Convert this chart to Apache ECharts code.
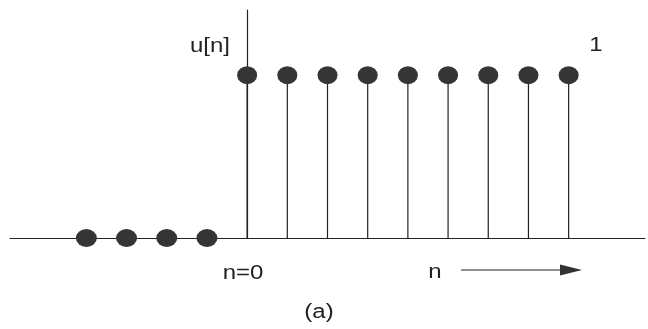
<!DOCTYPE html>
<html>
<head>
<meta charset="utf-8">
<script src="https://cdn.jsdelivr.net/npm/echarts@6/dist/echarts.min.js"></script>
<style>
  html, body { margin: 0; padding: 0; background: #ffffff; }
  #chart { width: 648px; height: 329px; }
</style>
</head>
<body>
<div id="chart"></div>
<script>
// Unit step sequence u[n]: zero for n < 0, one for n >= 0
const negN = [-4, -3, -2, -1];
const negVals = [0, 0, 0, 0];
const posN = [0, 1, 2, 3, 4, 5, 6, 7, 8];
const posVals = [1, 1, 1, 1, 1, 1, 1, 1, 1];

const negPoints = negN.map((n, i) => [n, negVals[i]]);
const posPoints = posN.map((n, i) => [n, posVals[i]]);

const ink = '#222222';
const dotColor = '#353535';
const font = '"Liberation Sans", Arial, sans-serif';

const chart = echarts.init(document.getElementById('chart'));

chart.setOption({
  backgroundColor: '#ffffff',
  animation: false,
  grid: { left: 10, right: 3, top: 10, bottom: 91 },
  xAxis: {
    type: 'value',
    min: -5.9,
    max: 9.9,
    axisLine: { onZero: true, lineStyle: { color: ink, width: 1.2 } },
    axisTick: { show: false },
    axisLabel: { show: false },
    splitLine: { show: false }
  },
  yAxis: {
    type: 'value',
    min: 0,
    max: 1.4,
    axisLine: { show: true, onZero: true, lineStyle: { color: ink, width: 1.2 } },
    axisTick: { show: false },
    axisLabel: { show: false },
    splitLine: { show: false }
  },
  series: [
    {
      // stems from the baseline up to each sample
      type: 'custom',
      data: posPoints,
      z: 2,
      renderItem: function (params, api) {
        const base = api.coord([api.value(0), 0]);
        const top = api.coord([api.value(0), api.value(1)]);
        return {
          type: 'line',
          shape: { x1: base[0], y1: base[1], x2: top[0], y2: top[1] },
          style: { stroke: ink, lineWidth: 1.2 }
        };
      }
    },
    {
      type: 'scatter',
      data: posPoints,
      z: 3,
      symbol: 'circle',
      symbolSize: [20, 18],
      itemStyle: { color: dotColor, opacity: 1 }
    },
    {
      type: 'scatter',
      data: negPoints,
      z: 3,
      symbol: 'circle',
      symbolSize: [21, 18],
      itemStyle: { color: dotColor, opacity: 1 }
    }
  ]
});

// Text annotations and the direction arrow
function label(x, y, text) {
  return {
    type: 'text',
    x: x, y: y,
    scaleX: 1.2,
    style: {
      text: text, fill: ink, font: '20px ' + font,
      textAlign: 'center', textVerticalAlign: 'middle'
    }
  };
}

chart.setOption({
  graphic: [
    label(210, 46, 'u[n]'),
    label(596, 45, '1'),
    label(243, 273, 'n=0'),
    label(435, 272, 'n'),
    {
      type: 'line',
      shape: { x1: 461, y1: 270, x2: 562, y2: 270 },
      style: { stroke: ink, lineWidth: 1.2 }
    },
    {
      type: 'polygon',
      shape: { points: [[582, 270], [560, 264.5], [560, 275.5]] },
      style: { fill: '#333333' }
    },
    label(319, 312, '(a)')
  ]
});
</script>
</body>
</html>
